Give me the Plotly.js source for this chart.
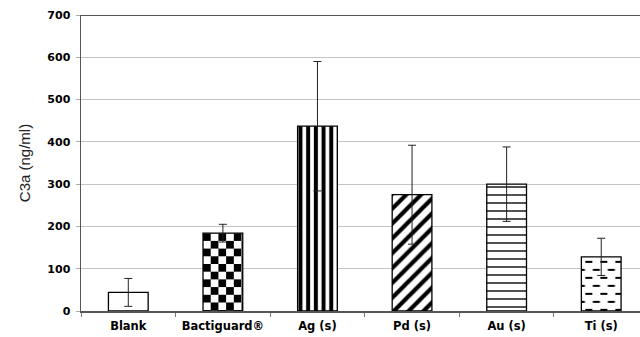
<!DOCTYPE html>
<html>
<head>
<meta charset="utf-8">
<script src="https://cdn.plot.ly/plotly-3.0.1.min.js"></script>
<style>html,body{margin:0;padding:0;background:#fff;}#chart{width:640px;height:337px;}</style>
</head>
<body>
<div id="chart"></div>
<script>
const categories = ['Blank', 'Bactiguard®', 'Ag (s)', 'Pd (s)', 'Au (s)', 'Ti (s)'];
const values = [44, 184, 437, 275, 300, 128];
const errors = [33, 21, 153, 117, 88, 44];
const yTickVals = [0, 100, 200, 300, 400, 500, 600, 700];

const patternShapes = ['', '', '|', '/', '-', ''];
const patternSizes = [8, 8, 7.7, 10.5, 8, 8];
const patternSolidity = [0.3, 0.3, 0.52, 0.4, 0.17, 0.3];

const trace = {
  type: 'bar',
  x: categories,
  y: values,
  width: 0.42,
  marker: {
    color: '#ffffff',
    line: {color: '#000000', width: 1.3},
    pattern: {
      shape: patternShapes,
      size: patternSizes,
      solidity: patternSolidity,
      fgcolor: '#000000',
      bgcolor: '#ffffff',
      fillmode: 'replace'
    }
  },
  error_y: {
    type: 'data',
    array: errors,
    visible: true,
    color: '#222222',
    thickness: 1,
    width: 4
  },
  hoverinfo: 'skip'
};

const xFont = {family: '"DejaVu Sans", Arial, sans-serif', size: 11.5, color: '#000', weight: 'bold'};
const yFont = {family: '"DejaVu Sans", Arial, sans-serif', size: 11, color: '#000', weight: 'bold'};

const layout = {
  width: 640,
  height: 337,
  margin: {l: 81, r: 0, t: 15, b: 26, pad: 0},
  paper_bgcolor: '#ffffff',
  plot_bgcolor: '#ffffff',
  showlegend: false,
  xaxis: {
    type: 'category',
    range: [-0.5, 5.41],
    showgrid: false,
    showline: true,
    linecolor: '#555555',
    linewidth: 1.5,
    ticks: 'outside',
    tickson: 'boundaries',
    ticklen: 4,
    tickcolor: '#777777',
    tickfont: xFont,
    ticklabelstandoff: 4,
    fixedrange: true
  },
  yaxis: {
    range: [0, 700],
    tickvals: yTickVals,
    ticktext: yTickVals.map(String),
    showgrid: true,
    gridcolor: '#c4c4c4',
    gridwidth: 1,
    zeroline: false,
    showline: true,
    linecolor: '#555555',
    linewidth: 1.5,
    ticks: 'outside',
    ticklen: 4,
    tickcolor: '#aaaaaa',
    tickfont: yFont,
    ticklabelstandoff: 3,
    title: {text: 'C3a (ng/ml)', font: {family: 'Arial, "Liberation Sans", sans-serif', size: 15, color: '#222'}, standoff: 13},
    automargin: false,
    fixedrange: true
  },
  shapes: [{
    type: 'line', xref: 'paper', yref: 'y', x0: 0, x1: 1, y0: 700, y1: 700,
    line: {color: '#555555', width: 2}
  }]
};

function applyCustomPatterns(gd) {
  const svgNS = 'http://www.w3.org/2000/svg';
  const mainSvg = gd.querySelector('.main-svg');
  let defs = mainSvg.querySelector('defs');
  if (!defs) { defs = document.createElementNS(svgNS, 'defs'); mainSvg.insertBefore(defs, mainSvg.firstChild); }
  const paths = gd.querySelectorAll('.barlayer .point path');

  function makePattern(id, w, h, build, bbox) {
    const p = document.createElementNS(svgNS, 'pattern');
    p.setAttribute('id', id);
    p.setAttribute('patternUnits', 'userSpaceOnUse');
    p.setAttribute('width', w);
    p.setAttribute('height', h);
    p.setAttribute('x', bbox.x);
    p.setAttribute('y', bbox.y);
    const bg = document.createElementNS(svgNS, 'rect');
    bg.setAttribute('width', w); bg.setAttribute('height', h); bg.setAttribute('fill', '#fff');
    p.appendChild(bg);
    build(p);
    defs.appendChild(p);
  }
  function rect(p, x, y, w, h) {
    const r = document.createElementNS(svgNS, 'rect');
    r.setAttribute('x', x); r.setAttribute('y', y); r.setAttribute('width', w); r.setAttribute('height', h);
    r.setAttribute('fill', '#000');
    p.appendChild(r);
  }

  // Checkerboard for Bactiguard
  const pc = paths[1];
  if (pc) {
    const bb = pc.getBBox();
    const c = 7.7;
    makePattern('checkerPat', 2 * c, 2 * c, p => { rect(p, 0, 0, c, c); rect(p, c, c, c, c); }, bb);
    pc.style.fill = 'url(#checkerPat)';
  }
  // Staggered dashes for Ti
  const pt = paths[5];
  if (pt) {
    const bb = pt.getBBox();
    makePattern('dashPat', 15, 16, p => {
      rect(p, 4, 4, 7, 2);
      rect(p, 11.5, 12, 7, 2);
      rect(p, -3.5, 12, 7, 2);
    }, bb);
    pt.style.fill = 'url(#dashPat)';
  }
}

Plotly.newPlot('chart', [trace], layout, {staticPlot: true, displayModeBar: false}).then(applyCustomPatterns);
</script>
</body>
</html>
